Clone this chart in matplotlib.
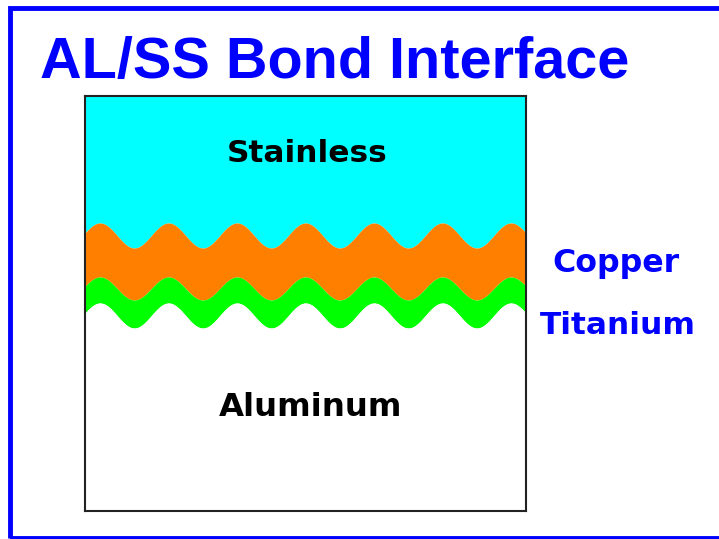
import numpy as np
import matplotlib.pyplot as plt
from matplotlib.patches import Rectangle

# Capas del corte (de arriba a abajo) y sus fronteras onduladas
capas = ["Stainless", "Copper", "Titanium", "Aluminum"]
colores = ["#00FFFF", "#FF8000", "#00FF00", "#FFFFFF"]
# nivel medio de cada frontera (px desde abajo de la caja) y amplitud
nivel_frontera = [275.5, 222.5, 195.5]
amplitud = [12.5, 11.5, 12.5]
longitud_onda = 68.5
fase_cresta = 15.0

ancho_caja, alto_caja = 441, 415

plt.rcParams['font.family'] = ['Liberation Sans', 'DejaVu Sans']

fig = plt.figure(figsize=(7.19, 5.39), dpi=100)
W, H = 719, 539

# marco azul de la diapositiva
fig.patches.append(Rectangle((9.5 / W, 1 - 537.5 / H), 760 / W, (537.5 - 8) / H,
                             transform=fig.transFigure, fill=False,
                             edgecolor='#0000FF', lw=3.5))

fig.text(40 / W, 1 - 78 / H, "AL/SS Bond Interface", color='#0000FF',
         fontsize=41.5, fontweight='bold', va='baseline', ha='left')

ax = fig.add_axes([85 / W, 1 - 511 / H, ancho_caja / W, alto_caja / H])
ax.set_xlim(0, ancho_caja)
ax.set_ylim(0, alto_caja)

x = np.linspace(0, ancho_caja, 800)
fronteras = [nivel + a * np.cos(2 * np.pi * (x - fase_cresta) / longitud_onda)
             for nivel, a in zip(nivel_frontera, amplitud)]

ax.fill_between(x, fronteras[0], alto_caja, color=colores[0], lw=0)
ax.fill_between(x, fronteras[1], fronteras[0], color=colores[1], lw=0)
ax.fill_between(x, fronteras[2], fronteras[1], color=colores[2], lw=0)
ax.fill_between(x, 0, fronteras[2], color=colores[3], lw=0)

ax.set_xticks([])
ax.set_yticks([])
for s in ax.spines.values():
    s.set_color('#222222')
    s.set_linewidth(1.5)

etiqueta = dict(family='DejaVu Sans', fontweight='bold', va='baseline', ha='center')
ax.text(222, 511 - 162, capas[0], fontsize=22.5, **etiqueta)
ax.text(226, 511 - 416, capas[3], fontsize=23.3, **etiqueta)

fig.text(615.5 / W, 1 - 272 / H, capas[1], color='#0000FF', fontsize=22.8, **etiqueta)
fig.text(618 / W, 1 - 334 / H, capas[2], color='#0000FF', fontsize=22.5, **etiqueta)

fig.savefig("out.png", dpi=100)
